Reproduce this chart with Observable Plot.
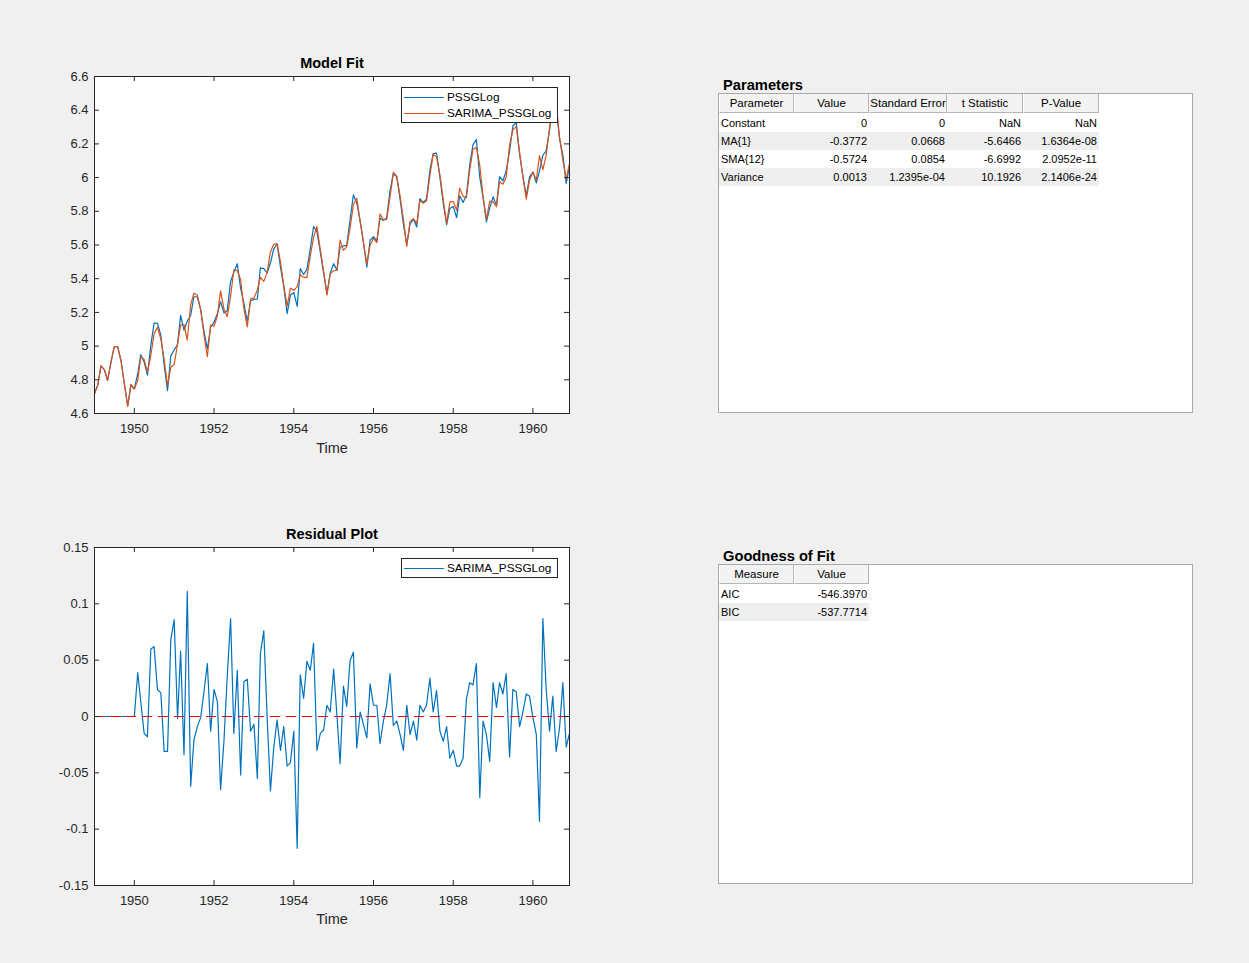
<!DOCTYPE html>
<html><head><meta charset="utf-8">
<script src="https://cdn.jsdelivr.net/npm/d3@7"></script>
<script src="https://cdn.jsdelivr.net/npm/@observablehq/plot@0.6"></script>
<style>
html,body{margin:0;padding:0;background:#f0f0f0;}
#fig{position:relative;width:1249px;height:963px;background:#f0f0f0;font-family:"Liberation Sans",Arial,sans-serif;overflow:hidden;}
.ttl{position:absolute;font-weight:bold;font-size:14.5px;color:#000;transform:translate(-50%,-50%);white-space:nowrap;}
.xlab{position:absolute;font-size:14.5px;color:#262626;transform:translate(-50%,-50%);white-space:nowrap;}
.legend{position:absolute;background:#fff;border:1px solid #262626;box-sizing:border-box;}
.lrow{position:absolute;left:0;height:16px;width:100%;}
.lline{position:absolute;left:2px;width:40px;top:7px;height:0;}
.ltxt{position:absolute;left:45px;top:-1px;font-size:11.8px;line-height:16px;color:#000;white-space:nowrap;}
.panelTitle{position:absolute;font-weight:bold;font-size:14.7px;color:#000;white-space:nowrap;}
.panel{position:absolute;background:#fff;border:1px solid #a9a9a9;box-sizing:border-box;}
.cell{position:absolute;box-sizing:border-box;font-size:11px;line-height:18px;height:18px;color:#000;white-space:nowrap;overflow:hidden;padding:0 2px;}
.hcell{position:absolute;box-sizing:border-box;font-size:11.5px;line-height:19px;height:19px;color:#000;white-space:nowrap;overflow:hidden;text-align:center;background:#f3f3f3;border-right:1px solid #b5b5b5;border-bottom:1px solid #b5b5b5;border-left:1px solid #fff;}
svg{position:absolute;}
</style>
</head><body>
<div id="fig"></div>
<script>
// ---------------- DATA ----------------
// Log of monthly airline passengers, Jan 1949 .. Dec 1960
const pssgLog = [
 4.719,4.771,4.883,4.860,4.796,4.905,4.997,4.997,4.913,4.779,4.644,4.771,
 4.745,4.836,4.949,4.905,4.828,5.004,5.136,5.136,5.063,4.890,4.736,4.942,
 4.977,5.011,5.182,5.094,5.147,5.182,5.293,5.293,5.215,5.088,4.984,5.112,
 5.142,5.193,5.263,5.198,5.209,5.384,5.438,5.489,5.342,5.252,5.147,5.268,
 5.278,5.278,5.464,5.460,5.434,5.493,5.576,5.606,5.468,5.352,5.193,5.303,
 5.318,5.236,5.460,5.425,5.455,5.576,5.710,5.680,5.557,5.434,5.313,5.434,
 5.489,5.451,5.587,5.595,5.598,5.753,5.897,5.849,5.743,5.613,5.468,5.628,
 5.649,5.624,5.759,5.746,5.762,5.924,6.023,6.004,5.872,5.724,5.602,5.724,
 5.753,5.707,5.875,5.852,5.872,6.045,6.142,6.146,6.001,5.849,5.720,5.817,
 5.829,5.762,5.892,5.852,5.894,6.075,6.196,6.225,6.001,5.883,5.737,5.820,
 5.886,5.835,6.006,5.981,6.040,6.157,6.306,6.326,6.138,6.009,5.892,6.004,
 6.033,5.969,6.038,6.133,6.157,6.282,6.433,6.407,6.230,6.133,5.966,6.068
];
// SARIMA residuals (zero over the presample)
const residual = [
 0,0,0,0,0,0,0,0,0,0,0,0,
 0,0.039,0.013,-0.015,-0.018,0.060,0.062,0.024,0.021,-0.031,-0.031,0.068,
 0.086,-0.002,0.058,-0.034,0.111,-0.062,-0.021,-0.009,-0.001,0.022,0.047,-0.013,
 0.024,0.013,-0.065,-0.022,0.035,0.087,-0.015,0.041,-0.052,0.031,0.033,-0.013,
 -0.007,-0.055,0.056,0.076,0.001,-0.066,-0.028,-0.003,-0.030,-0.009,-0.044,-0.041,
 -0.013,-0.117,0.037,0.016,0.049,0.041,0.065,-0.030,-0.015,-0.012,0.010,0.004,
 0.042,0.000,-0.042,0.027,0.009,0.050,0.057,-0.028,0.004,-0.007,-0.019,0.029,
 0.010,0.010,-0.024,-0.004,0.010,0.038,-0.008,-0.004,-0.016,-0.030,0.010,-0.016,
 -0.004,-0.021,0.010,0.004,0.010,0.034,0.004,0.023,-0.013,-0.022,-0.009,-0.037,
 -0.030,-0.044,-0.044,-0.037,0.015,0.030,0.028,0.047,-0.072,-0.004,-0.016,-0.040,
 0.030,0.008,0.030,0.020,0.038,-0.036,0.024,0.022,-0.009,0.004,0.020,0.018,
 -0.001,-0.016,-0.093,0.087,0.025,-0.013,0.018,-0.031,-0.010,0.030,-0.027,-0.015
];
const startMonth = "1949-01-01";
const endMonth = "1960-12-01";
const xTickYears = [1950,1952,1954,1956,1958,1960];
const fitYTicks = [4.6,4.8,5.0,5.2,5.4,5.6,5.8,6.0,6.2,6.4,6.6];
const resYTicks = [-0.15,-0.1,-0.05,0,0.05,0.1,0.15];
const fitSeriesNames = ["PSSGLog","SARIMA_PSSGLog"];
const resSeriesNames = ["SARIMA_PSSGLog"];

const paramHeaders = ["Parameter","Value","Standard Error","t Statistic","P-Value"];
const paramNames = ["Constant","MA{1}","SMA{12}","Variance"];
const paramValue = ["0","-0.3772","-0.5724","0.0013"];
const paramSE = ["0","0.0668","0.0854","1.2395e-04"];
const paramT = ["NaN","-5.6466","-6.6992","10.1926"];
const paramP = ["NaN","1.6364e-08","2.0952e-11","2.1406e-24"];
const gofHeaders = ["Measure","Value"];
const gofNames = ["AIC","BIC"];
const gofValues = ["-546.3970","-537.7714"];

// ---------------- BUILD ----------------
const fig = document.getElementById("fig");
const d0 = new Date(startMonth + "T00:00:00Z");
const d1 = new Date(endMonth + "T00:00:00Z");
const months = d3.utcMonth.range(d0, d3.utcMonth.offset(d1, 1));
const rows = months.map((date, i) => ({date, pssg: pssgLog[i], res: residual[i], fitted: pssgLog[i] - residual[i]}));
const xTickDates = xTickYears.map(y => new Date(Date.UTC(y, 0, 1)));
const BLUE = "#0072BD", ORANGE = "#D95319", AX = "#262626";
const FW = 475;

function makeAxes({top, frameH, yDomain, yTicks, yFmt, marks}) {
  const svg = Plot.plot({
    width: 94 + FW + 10, height: 10 + frameH + 50,
    marginLeft: 94, marginRight: 10, marginTop: 10, marginBottom: 50,
    style: {background: "transparent", fontFamily: "'Liberation Sans', Arial, sans-serif", fontSize: "13px", color: AX, overflow: "visible"},
    x: {type: "utc", domain: [d0, d1]},
    y: {domain: yDomain},
    marks: [
      Plot.frame({fill: "white", stroke: null}),
      ...marks,
      Plot.tickX(xTickDates, {x: d => d, stroke: AX, insetTop: frameH - 5}),
      Plot.tickX(xTickDates, {x: d => d, stroke: AX, insetBottom: frameH - 5}),
      Plot.tickY(yTicks, {y: d => d, stroke: AX, insetRight: FW - 5}),
      Plot.tickY(yTicks, {y: d => d, stroke: AX, insetLeft: FW - 5}),
      Plot.axisX(xTickDates, {tickSize: 0, tickPadding: 10, tickFormat: d => String(d.getUTCFullYear()), label: null, fill: AX, fontSize: 13}),
      Plot.axisY(yTicks, {tickSize: 0, tickPadding: 6, tickFormat: yFmt, label: null, fill: AX, fontSize: 13}),
      Plot.frame({stroke: AX, strokeWidth: 1})
    ]
  });
  svg.style.left = "0px";
  svg.style.top = (top - 10) + "px";
  fig.appendChild(svg);
}

makeAxes({
  top: 76, frameH: 337, yDomain: [4.6, 6.6], yTicks: fitYTicks,
  yFmt: d => String(+d.toFixed(1)),
  marks: [
    Plot.line(rows, {x: "date", y: "pssg", stroke: BLUE, strokeWidth: 1.2}),
    Plot.line(rows, {x: "date", y: "fitted", stroke: ORANGE, strokeWidth: 1.2})
  ]
});
makeAxes({
  top: 547, frameH: 338, yDomain: [-0.15, 0.15], yTicks: resYTicks,
  yFmt: d => String(+d.toFixed(2)),
  marks: [
    Plot.line(rows, {x: "date", y: "res", stroke: BLUE, strokeWidth: 1.2}),
    Plot.ruleY([0], {stroke: "#ff0000", strokeWidth: 1, strokeDasharray: "10,6"})
  ]
});

function addDiv(cls, text, styles) {
  const d = document.createElement("div");
  d.className = cls;
  if (text != null) d.textContent = text;
  Object.assign(d.style, styles || {});
  fig.appendChild(d);
  return d;
}
addDiv("ttl", "Model Fit", {left: "332px", top: "63px"});
addDiv("ttl", "Residual Plot", {left: "332px", top: "534px"});
addDiv("xlab", "Time", {left: "332px", top: "448px"});
addDiv("xlab", "Time", {left: "332px", top: "919px"});

function legend(left, top, width, names, colors) {
  const box = addDiv("legend", null, {left: left + "px", top: top + "px", width: width + "px", height: (names.length * 16 + 4) + "px"});
  names.forEach((n, i) => {
    const r = document.createElement("div");
    r.className = "lrow"; r.style.top = (2 + i * 16) + "px";
    const l = document.createElement("div"); l.className = "lline";
    l.style.borderTop = "1.3px solid " + colors[i];
    const t = document.createElement("div"); t.className = "ltxt"; t.textContent = n;
    r.appendChild(l); r.appendChild(t); box.appendChild(r);
  });
}
legend(401, 87, 157, fitSeriesNames, [BLUE, ORANGE]);
legend(401, 558, 157, resSeriesNames, [BLUE]);

function table(left, top, title, headers, widths, columns) {
  addDiv("panelTitle", title, {left: (left + 5) + "px", top: (top - 16) + "px"});
  addDiv("panel", null, {left: left + "px", top: top + "px", width: "475px", height: "320px"});
  let x = left + 1;
  headers.forEach((h, j) => {
    addDiv("hcell", h, {left: x + "px", top: (top + 1) + "px", width: widths[j] + "px"});
    columns[j].forEach((v, i) => {
      addDiv("cell", v, {
        left: x + "px", top: (top + 21 + i * 18) + "px", width: widths[j] + "px",
        textAlign: j === 0 ? "left" : "right",
        background: i % 2 === 1 ? "#efefef" : "#ffffff"
      });
    });
    x += widths[j];
  });
}
table(718, 93, "Parameters", paramHeaders, [75, 75, 78, 76, 76], [paramNames, paramValue, paramSE, paramT, paramP]);
table(718, 564, "Goodness of Fit", gofHeaders, [75, 75], [gofNames, gofValues]);
</script>
</body></html>
